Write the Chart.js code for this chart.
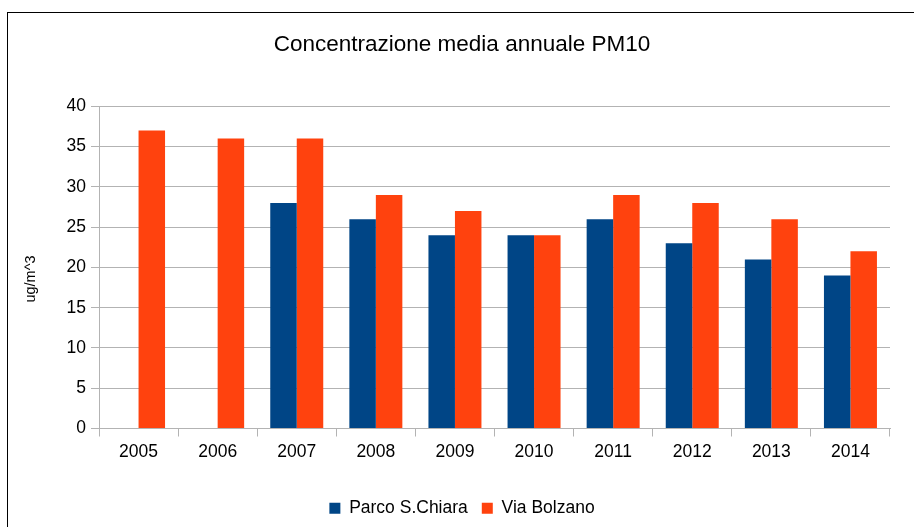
<!DOCTYPE html>
<html>
<head>
<meta charset="utf-8">
<script src="https://cdn.jsdelivr.net/npm/chart.js@4.4.1/dist/chart.umd.min.js"></script>
<style>
  html, body { margin: 0; padding: 0; background: #fff; width: 914px; height: 527px; overflow: hidden; }
  #frame { position: absolute; left: 7px; top: 12px; width: 920px; height: 530px; border-left: 1px solid #000; border-top: 1px solid #000; }
  #c { position: absolute; left: 8px; top: 13px; }
</style>
</head>
<body>
<div id="frame"></div>
<canvas id="c" width="906" height="514"></canvas>
<script>
const categories = ["2005","2006","2007","2008","2009","2010","2011","2012","2013","2014"];
const parcoSChiara = [null, null, 28, 26, 24, 24, 26, 23, 21, 19];
const viaBolzano = [37, 36, 36, 29, 27, 24, 29, 28, 26, 22];
const seriesNames = ["Parco S.Chiara", "Via Bolzano"];
const chartTitle = "Concentrazione media annuale PM10";
const yAxisTitle = "ug/m^3";

const FONT = "'Liberation Sans', Arial, sans-serif";
const GRID = "#b3b3b3";

const yTitlePlugin = {
  id: 'yTitle',
  afterDraw(chart) {
    const ctx = chart.ctx;
    ctx.save();
    ctx.font = "14.5px " + FONT;
    ctx.fillStyle = "#000";
    ctx.textAlign = "center";
    ctx.textBaseline = "middle";
    ctx.translate(23, 266);
    ctx.rotate(-Math.PI / 2);
    ctx.fillText(yAxisTitle, 0, 0);
    ctx.restore();
  }
};

new Chart(document.getElementById('c'), {
  type: 'bar',
  data: {
    labels: categories,
    datasets: [
      { label: seriesNames[0], data: parcoSChiara, backgroundColor: '#004586', borderWidth: 0 },
      { label: seriesNames[1], data: viaBolzano, backgroundColor: '#ff420e', borderWidth: 0 }
    ]
  },
  options: {
    responsive: false,
    animation: false,
    devicePixelRatio: 1,
    layout: { padding: { left: 26, right: 24, top: 0, bottom: 0 } },
    datasets: { bar: { categoryPercentage: 0.67, barPercentage: 1.0 } },
    plugins: {
      title: {
        display: true,
        text: chartTitle,
        color: '#000',
        font: { family: FONT, size: 22.5, weight: 'normal' },
        padding: { top: 18, bottom: 48.4 }
      },
      legend: {
        position: 'bottom',
        labels: {
          color: '#000',
          font: { family: FONT, size: 17.5 },
          boxWidth: 11,
          boxHeight: 11,
          padding: 14
        }
      },
      tooltip: { enabled: false }
    },
    scales: {
      x: {
        afterFit(scale) { scale.height = 57; },
        border: { display: true, color: GRID, width: 1 },
        grid: {
          offset: true,
          drawOnChartArea: true,
          color: (ctx) => (ctx.index === categories.length ? GRID : 'rgba(0,0,0,0)'),
          tickColor: GRID,
          tickLength: 8,
          lineWidth: 1
        },
        ticks: {
          color: '#000',
          font: { family: FONT, size: 17.5 },
          padding: 5,
          maxRotation: 0
        }
      },
      y: {
        min: 0,
        max: 40,
        afterFit(scale) { scale.width = 65; },
        border: { display: true, color: GRID, width: 1 },
        grid: { color: GRID, tickColor: GRID, tickLength: 8, lineWidth: 1 },
        ticks: {
          stepSize: 5,
          color: '#000',
          font: { family: FONT, size: 17.5 },
          padding: 5
        }
      }
    }
  },
  plugins: [yTitlePlugin]
});
</script>
</body>
</html>
